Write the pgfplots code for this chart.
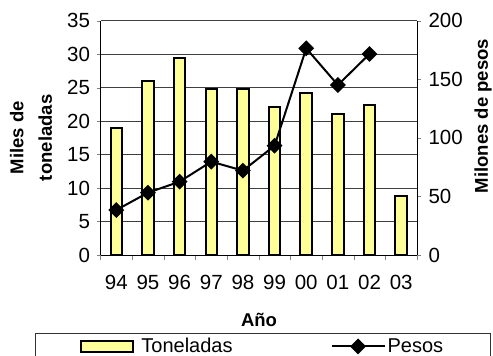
\documentclass[border=0pt]{standalone}
\usepackage{pgfplots}
\pgfplotsset{compat=1.18}
\usepackage{fontspec}
\setmainfont{Liberation Sans}
\definecolor{barfill}{HTML}{FFFF99}

\pgfplotsset{
  base/.style={
    at={(100.5bp,101bp)}, anchor=south west,
    scale only axis, width=316.5bp, height=234.3bp,
    xmin=-0.5, xmax=9.5,
    tick align=outside,
    axis line style={-, line width=0.8bp},
    /pgf/number format/assume math mode=true,
    ticklabel style={font=\fontsize{20.5bp}{22bp}\selectfont},
    label style={font=\fontsize{18.5bp}{28.5bp}\selectfont\bfseries},
  },
  pesoslegend/.style={
    legend image code/.code={
      \draw[mark repeat=2, mark phase=2, ##1] plot coordinates {(0bp,0bp) (26.5bp,0bp) (53bp,0bp)};
      \path (0bp,-24bp);}
  },
}

\begin{document}
\begin{tikzpicture}
\useasboundingbox (0,0) rectangle (493bp,356bp);
\clip (0,0) rectangle (493bp,356bp);

\begin{axis}[
    base,
    axis x line*=bottom, axis y line*=left,
    ymin=0, ymax=35,
    ytick={0,5,...,35},
    ymajorgrids=true,
    grid style={black!75, line width=0.8bp},
    xtick={0,...,9},
    xticklabels={94,95,96,97,98,99,00,01,02,03},
    major x tick style={draw=none},
    minor xtick={-0.5,0.5,...,9.5},
    minor tick length=5bp,
    major tick length=4bp,
    xticklabel shift=13bp,
    yticklabel style={xshift=-3bp},
    xlabel={Año},
    xlabel style={at={(axis description cs:0.5008,-0.2774)}, anchor=center},
    ylabel={Miles de\\toneladas},
    ylabel style={at={(axis description cs:-0.2196,0.5)}, anchor=center, align=center},
]
\addplot[ybar, bar width=11.5bp, fill=barfill, draw=black, line width=2bp]
    coordinates {
        (0,18.9)
        (1,26.0)
        (2,29.5)
        (3,24.75)
        (4,24.75)
        (5,22.1)
        (6,24.25)
        (7,21.0)
        (8,22.35)
        (9,8.8)
    };
\end{axis}

\begin{axis}[
    base,
    axis x line=none, axis y line*=right,
    ymin=0, ymax=200,
    ytick={0,50,...,200},
    major tick length=4bp,
    yticklabel style={xshift=4bp},
    ylabel={Milones de pesos},
    ylabel style={at={(axis description cs:1.2085,0.593)}, anchor=center},
    legend columns=2,
    legend cell align=left,
    legend style={
        at={(axis description cs:-0.2070,-0.3329)}, anchor=north west,
        draw=black!80, line width=0.8bp,
        font=\fontsize{20bp}{24bp}\selectfont,
        inner xsep=45bp, inner ysep=3bp,
        /tikz/every even column/.append style={column sep=96bp},
        /tikz/column 1/.append style={column sep=5bp},
    },
]
\addlegendimage{legend image code/.code={
    \draw[fill=barfill, draw=black, line width=2bp] (0bp,-5.5bp) rectangle (52bp,5.5bp);
    \path (0bp,-24bp);}}
\addlegendentry{Toneladas}
\addplot[black, line width=2bp, mark=square*, mark size=4.6bp,
    mark options={rotate=45, solid, fill=black}, pesoslegend]
    coordinates {
        (0,38.4)
        (1,53.2)
        (2,62.6)
        (3,79.7)
        (4,72.0)
        (5,93.3)
        (6,176.4)
        (7,145.1)
        (8,171.6)
    };
\addlegendentry{Pesos}
\end{axis}
\end{tikzpicture}
\end{document}
